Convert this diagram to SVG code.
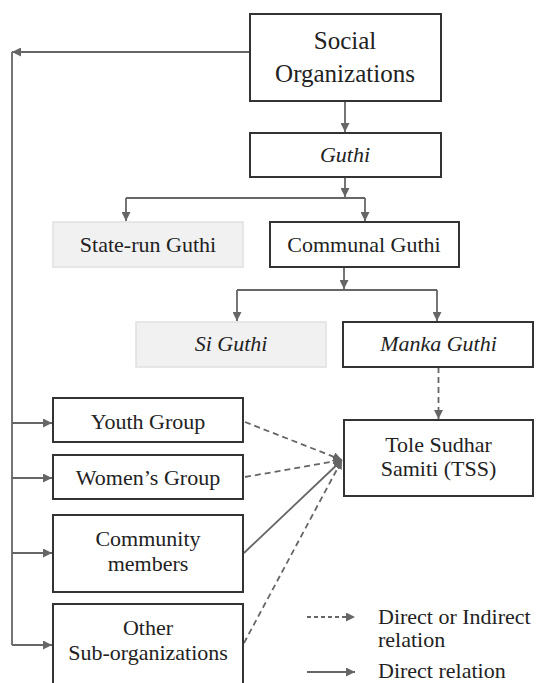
<svg xmlns="http://www.w3.org/2000/svg" width="537" height="683" viewBox="0 0 537 683" font-family="Liberation Serif">
  <style>
    .box { fill: #ffffff; stroke: #333333; stroke-width: 2; }
    .soft { fill: #f1f1f1; stroke: #e0e0e0; stroke-width: 1.5; }
    .lbl { font-family: 'Liberation Serif', serif !important; font-size: 22px; fill: #222222; text-anchor: middle; }
    .big { font-size: 25px; }
    .it { font-style: italic; }
    .legend { text-anchor: start; }
    .wire { fill: none; stroke: #666666; stroke-width: 1.8; }
    .dash { stroke-dasharray: 6 4; }
    .dash-s { stroke-dasharray: 4 3; }
  </style>
  <defs>
    <marker id="arrow" viewBox="0 0 10 10" refX="10" refY="5" markerWidth="9" markerHeight="9" markerUnits="userSpaceOnUse" orient="auto">
      <path d="M0,0 L10,5 L0,10 Z" fill="#666666"/>
    </marker>
  </defs>

  <!-- connectors -->
  <g id="connectors">
    <!-- Social Organizations to the left spine and Guthi -->
    <path class="wire" d="M250,52 H12" marker-end="url(#arrow)"/>
    <path class="wire" d="M12,52 V645"/>
    <path class="wire" d="M345,101 V132" marker-end="url(#arrow)"/>
    <!-- Guthi split -->
    <path class="wire" d="M345,177 V197" marker-end="url(#arrow)"/>
    <path class="wire" d="M126,198 H365"/>
    <path class="wire" d="M126,198 V221" marker-end="url(#arrow)"/>
    <path class="wire" d="M365,198 V221" marker-end="url(#arrow)"/>
    <!-- Communal Guthi split -->
    <path class="wire" d="M344,267 V289" marker-end="url(#arrow)"/>
    <path class="wire" d="M237,290 H437"/>
    <path class="wire" d="M237,290 V321" marker-end="url(#arrow)"/>
    <path class="wire" d="M437,290 V321" marker-end="url(#arrow)"/>
    <!-- Manka Guthi to TSS -->
    <path class="wire dash" d="M438.5,367 V419" marker-end="url(#arrow)"/>
    <!-- spine to sub-groups -->
    <path class="wire" d="M12,423 H52" marker-end="url(#arrow)"/>
    <path class="wire" d="M12,478 H52" marker-end="url(#arrow)"/>
    <path class="wire" d="M12,553 H52" marker-end="url(#arrow)"/>
    <path class="wire" d="M12,645 H52" marker-end="url(#arrow)"/>
    <!-- sub-groups to TSS -->
    <path class="wire dash" d="M245,422 L342,460" marker-end="url(#arrow)"/>
    <path class="wire dash" d="M245,477 L342,460" marker-end="url(#arrow)"/>
    <path class="wire" d="M244,553 L342,460" marker-end="url(#arrow)"/>
    <path class="wire dash" d="M244,643 L342,460" marker-end="url(#arrow)"/>
  </g>

  <g id="social-organizations">
    <rect class="box" x="250" y="14" width="191" height="87"/>
    <text class="lbl big" style="font-family: 'Liberation Serif', serif !important" x="345" y="49">Social</text>
    <text class="lbl big" style="font-family: 'Liberation Serif', serif !important" x="345" y="82">Organizations</text>
  </g>

  <g id="guthi">
    <rect class="box" x="250" y="133" width="191" height="44"/>
    <text class="lbl it" style="font-family: 'Liberation Serif', serif !important" x="345" y="162">Guthi</text>
  </g>

  <g id="state-run-guthi">
    <rect class="soft" x="53" y="222" width="190" height="45"/>
    <text class="lbl" style="font-family: 'Liberation Serif', serif !important" x="148" y="252">State-run Guthi</text>
  </g>

  <g id="communal-guthi">
    <rect class="box" x="270" y="222" width="189" height="45"/>
    <text class="lbl" style="font-family: 'Liberation Serif', serif !important" x="364" y="252">Communal Guthi</text>
  </g>

  <g id="si-guthi">
    <rect class="soft" x="136" y="322" width="190" height="45"/>
    <text class="lbl it" style="font-family: 'Liberation Serif', serif !important" x="231" y="351">Si Guthi</text>
  </g>

  <g id="manka-guthi">
    <rect class="box" x="343" y="322" width="190" height="45"/>
    <text class="lbl it" style="font-family: 'Liberation Serif', serif !important" x="438.5" y="351">Manka Guthi</text>
  </g>

  <g id="tss">
    <rect class="box" x="344" y="420" width="189" height="76"/>
    <text class="lbl" style="font-family: 'Liberation Serif', serif !important" x="438.5" y="452">Tole Sudhar</text>
    <text class="lbl" style="font-family: 'Liberation Serif', serif !important" x="438.5" y="476">Samiti (TSS)</text>
  </g>

  <g id="youth-group">
    <rect class="box" x="53" y="398" width="190" height="44"/>
    <text class="lbl" style="font-family: 'Liberation Serif', serif !important" x="148" y="429">Youth Group</text>
  </g>

  <g id="womens-group">
    <rect class="box" x="53" y="455" width="190" height="44"/>
    <text class="lbl" style="font-family: 'Liberation Serif', serif !important" x="148" y="485">Women’s Group</text>
  </g>

  <g id="community-members">
    <rect class="box" x="53" y="515" width="190" height="77"/>
    <text class="lbl" style="font-family: 'Liberation Serif', serif !important" x="148" y="546">Community</text>
    <text class="lbl" style="font-family: 'Liberation Serif', serif !important" x="148" y="571">members</text>
  </g>

  <g id="other-sub-organizations">
    <rect class="box" x="53" y="604" width="190" height="90"/>
    <text class="lbl" style="font-family: 'Liberation Serif', serif !important" x="148" y="635">Other</text>
    <text class="lbl" style="font-family: 'Liberation Serif', serif !important" x="148" y="660">Sub-organizations</text>
  </g>

  <g id="legend">
    <path class="wire dash-s" d="M307,617 H355" marker-end="url(#arrow)"/>
    <text class="lbl legend" style="font-family: 'Liberation Serif', serif !important" x="378" y="624">Direct or Indirect</text>
    <text class="lbl legend" style="font-family: 'Liberation Serif', serif !important" x="378" y="647">relation</text>
    <path class="wire" d="M307,672 H355" marker-end="url(#arrow)"/>
    <text class="lbl legend" style="font-family: 'Liberation Serif', serif !important" x="378" y="678">Direct relation</text>
  </g>
</svg>
